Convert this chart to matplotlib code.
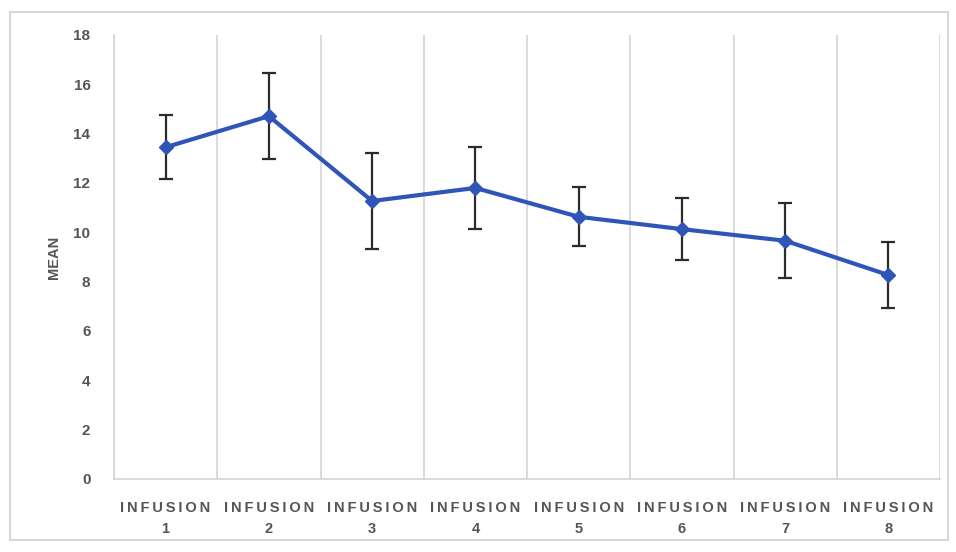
import matplotlib

matplotlib.use("Agg")
import matplotlib.pyplot as plt
from matplotlib.patches import Rectangle
from matplotlib.ticker import FixedLocator

infusions = ["1", "2", "3", "4", "5", "6", "7", "8"]
means = [13.45, 14.71, 11.27, 11.80, 10.63, 10.13, 9.66, 8.27]
errors = [1.30, 1.73, 1.93, 1.66, 1.19, 1.27, 1.52, 1.32]
y_ticks = [0, 2, 4, 6, 8, 10, 12, 14, 16, 18]

LINE_BLUE = "#2f55b9"
TEXT_GRAY = "#555555"
GRID_GRAY = "#d4d4d4"

plt.rcParams["font.family"] = ["Liberation Sans", "DejaVu Sans"]

fig = plt.figure(figsize=(9.56, 5.52), dpi=100)
fig.patches.append(
    Rectangle((10 / 956, 12 / 552), 938 / 956, 528 / 552, transform=fig.transFigure,
              fill=False, edgecolor="#d0d0d0", linewidth=1.2)
)
ax = fig.add_axes([114 / 956, 1 - 479 / 552, 826 / 956, 444 / 552])

x = list(range(1, len(means) + 1))
ax.errorbar(x, means, yerr=errors, fmt="none", ecolor="#2b2b2b",
            elinewidth=1.6, capsize=5, capthick=1.6, zorder=3)
ax.plot(x, means, color=LINE_BLUE, linewidth=3, marker="D", markersize=7,
        markerfacecolor=LINE_BLUE, markeredgecolor=LINE_BLUE, zorder=4)

ax.set_xlim(0.5, len(means) + 0.5)
ax.set_ylim(0, 18)
ax.set_yticks(y_ticks)

# category boundaries carry the vertical gridlines
ax.xaxis.set_minor_locator(FixedLocator([i + 0.5 for i in range(len(means) + 1)]))
ax.grid(True, which="minor", axis="x", color=GRID_GRAY, linewidth=1.2)
ax.set_xticks(x)
spaced = "\u2009".join("INFUSION")
ax.set_xticklabels([f"{spaced}\n{n}" for n in infusions], fontsize=10.5,
                   color=TEXT_GRAY, fontweight="bold", linespacing=1.65)
ax.tick_params(axis="x", which="both", length=0, pad=16)
ax.tick_params(axis="y", length=0, pad=17, labelsize=11, labelcolor=TEXT_GRAY)
for lbl in ax.get_yticklabels():
    lbl.set_fontweight("bold")

for side in ["top", "right"]:
    ax.spines[side].set_visible(False)
for side in ["left", "bottom"]:
    ax.spines[side].set_color(GRID_GRAY)
    ax.spines[side].set_linewidth(1.2)

ax.set_ylabel("MEAN", fontsize=10.5, color=TEXT_GRAY, fontweight="bold", labelpad=9)

fig.savefig("out.png", dpi=100)
